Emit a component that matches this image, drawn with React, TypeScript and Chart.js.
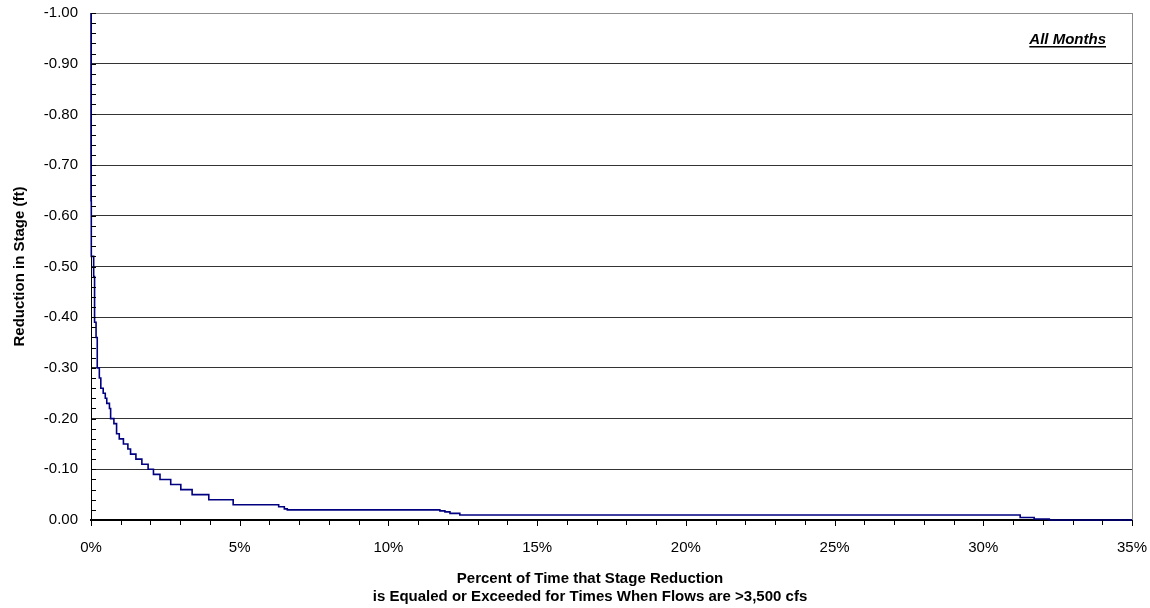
import React, { useEffect, useRef } from 'react';
import { Chart, registerables } from 'chart.js';

Chart.register(...registerables);

// Percent of time (x) at which each stage-reduction level begins
const percentTime = [
  0, 0, 0.01, 0.09, 0.12, 0.17, 0.21, 0.28, 0.33, 0.41, 0.48, 0.53, 0.62, 0.66,
  0.77, 0.86, 0.95, 1.09, 1.24, 1.33, 1.51, 1.71, 1.92, 2.1, 2.32, 2.68, 3.02,
  3.4, 3.96, 4.78, 6.31, 6.5, 6.6, 11.73, 11.9, 12.07, 12.4, 31.24, 31.71, 32.22, 35,
];
// Stage reduction level (ft)
const stageReduction = [
  -1.0, -0.63, -0.52, -0.48, -0.39, -0.36, -0.3, -0.28, -0.26, -0.25, -0.24, -0.23, -0.22, -0.2,
  -0.19, -0.17, -0.16, -0.15, -0.14, -0.13, -0.12, -0.11, -0.1, -0.09, -0.08, -0.07, -0.06,
  -0.05, -0.04, -0.03, -0.026, -0.022, -0.02, -0.018, -0.016, -0.013, -0.01, -0.005, -0.002, 0, 0,
];

const xTickStep = 5;
const yTickStep = 0.1;
const xAxisTitle = [
  'Percent of Time that Stage Reduction',
  'is Equaled or Exceeded for Times When Flows are >3,500 cfs',
];
const yAxisTitle = 'Reduction in Stage (ft)';
const panelLabel = 'All Months';

const FONT = '"Liberation Sans", Arial, Helvetica, sans-serif';

const decorPlugin = {
  id: 'decor',
  afterDraw(chart: any) {
    const { ctx, chartArea, scales } = chart;
    const xs = scales.x;
    const ys = scales.y;
    ctx.save();
    // right border
    ctx.strokeStyle = '#8c8c8c';
    ctx.lineWidth = 1;
    ctx.beginPath();
    ctx.moveTo(chartArea.right + 0.5, chartArea.top);
    ctx.lineTo(chartArea.right + 0.5, chartArea.bottom);
    ctx.stroke();
    // y minor ticks (inside)
    ctx.strokeStyle = '#000';
    ctx.beginPath();
    for (let i = 0; i <= 50; i++) {
      const y = Math.round(ys.getPixelForValue(-1 + i * 0.02)) + 0.5;
      ctx.moveTo(chartArea.left, y);
      ctx.lineTo(chartArea.left + 5, y);
    }
    ctx.stroke();
    // x minor ticks (outside)
    ctx.beginPath();
    for (let i = 0; i <= 35; i++) {
      const x = Math.round(xs.getPixelForValue(i)) + 0.5;
      ctx.moveTo(x, chartArea.bottom);
      ctx.lineTo(x, chartArea.bottom + (i % 5 === 0 ? 6 : 5));
    }
    ctx.stroke();
    // x axis title
    ctx.fillStyle = '#000';
    ctx.font = `bold 15px ${FONT}`;
    ctx.textAlign = 'center';
    ctx.textBaseline = 'middle';
    ctx.fillText(xAxisTitle[0], 590, 579);
    ctx.fillText(xAxisTitle[1], 590, 597);
    // panel label
    ctx.font = `italic bold 15px ${FONT}`;
    ctx.textAlign = 'right';
    ctx.textBaseline = 'alphabetic';
    const rx = 1106;
    const by = 44;
    ctx.fillText(panelLabel, rx, by);
    const w = ctx.measureText(panelLabel).width;
    ctx.fillRect(rx - w, by + 2, w, 1.5);
    ctx.restore();
  },
};

export default function App() {
  const ref = useRef<HTMLCanvasElement | null>(null);
  useEffect(() => {
    if (!ref.current) return;
    const data = percentTime.map((x, i) => ({ x, y: stageReduction[i] }));
    const chart = new Chart(ref.current, {
      type: 'line',
      data: {
        datasets: [
          {
            data,
            borderColor: '#000080',
            borderWidth: 1.6,
            pointRadius: 0,
            stepped: true,
            fill: false,
            clip: 4,
          } as any,
        ],
      },
      options: {
        animation: false,
        responsive: false,
        devicePixelRatio: 1,
        layout: { padding: { top: 13, right: 18, left: 0, bottom: 0 } },
        plugins: { legend: { display: false }, tooltip: { enabled: false } },
        scales: {
          x: {
            type: 'linear',
            min: 0,
            max: 35,
            ticks: {
              stepSize: xTickStep,
              callback: (v: any) => `${v}%`,
              color: '#000',
              font: { family: FONT, size: 15 },
              padding: 19,
              maxRotation: 0,
            },
            grid: { display: false, drawTicks: false },
            border: { display: true, color: '#000', width: 2 },
            afterFit: (s: any) => {
              s.height = 88;
              s.paddingLeft = 0;
              s.paddingRight = 0;
            },
          },
          y: {
            type: 'linear',
            min: -1,
            max: 0,
            reverse: true,
            ticks: {
              stepSize: yTickStep,
              callback: (v: any) => Number(v).toFixed(2),
              color: '#000',
              font: { family: FONT, size: 15 },
              padding: 13,
            },
            grid: {
              drawTicks: false,
              color: (c: any) => (c.tick && c.tick.value === -1 ? '#8c8c8c' : '#333'),
              lineWidth: 1,
            },
            border: { display: true, color: '#000', width: 1 },
            title: {
              display: true,
              text: yAxisTitle,
              color: '#000',
              font: { family: FONT, size: 15, weight: 'bold' },
              padding: { top: 11, bottom: 0 },
            },
            afterFit: (s: any) => {
              s.width = 91;
              s.paddingTop = 0;
              s.paddingBottom = 0;
            },
          },
        },
      },
      plugins: [decorPlugin],
    });
    return () => chart.destroy();
  }, []);
  return (
    <div style={{ position: 'fixed', left: 0, top: 0, width: 1150, height: 608, background: '#fff' }}>
      <canvas ref={ref} width={1150} height={608} />
    </div>
  );
}
